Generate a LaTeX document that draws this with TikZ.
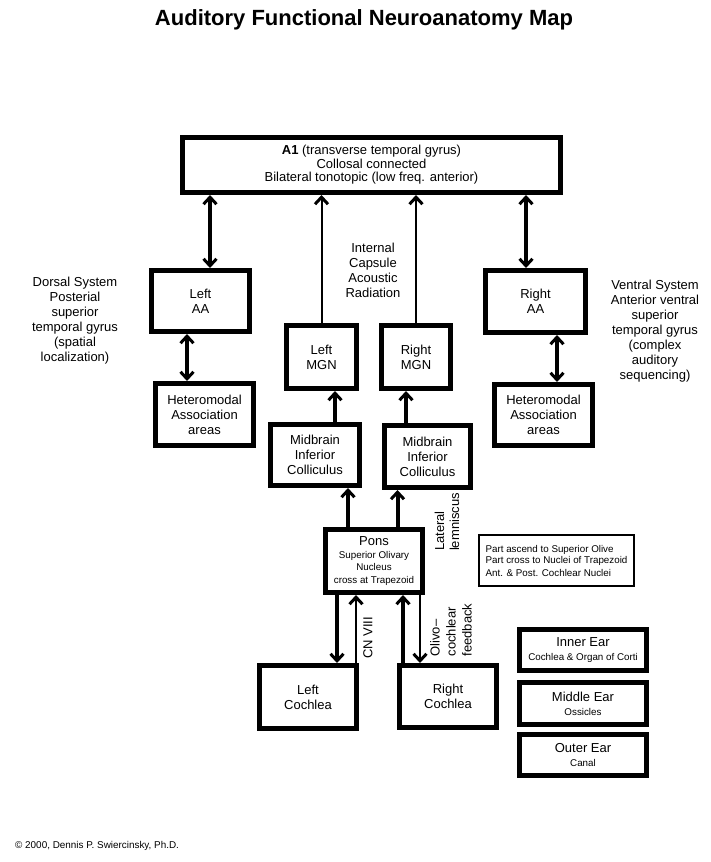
\documentclass[tikz,border=0pt]{standalone}
\usepackage{fontspec}
\setmainfont{Liberation Sans}
\usepackage{tikz}
\usetikzlibrary{arrows.meta}
\definecolor{ink}{HTML}{000000}
\definecolor{paper}{HTML}{FFFFFF}

\begin{document}
\begin{tikzpicture}[x=1pt,y=-1pt,font=\fontsize{13}{15}\selectfont,
  region/.style={draw=ink,line width=5pt,align=center,inner sep=1pt},
  note/.style={draw=ink,line width=2pt,align=left,inner sep=3pt},
  tract/.style={draw=ink,line width=4pt},
  fibre/.style={draw=ink,line width=2pt},
  onehead/.style={-{Straight Barb[length=7pt,width=13pt,line width=3pt]}},
  twoheads/.style={{Straight Barb[length=7pt,width=13pt,line width=3pt]}-{Straight Barb[length=7pt,width=13pt,line width=3pt]}},
  minor/.style={font=\fontsize{9.8}{12.5}\selectfont}]
  \fill[paper] (0,0) rectangle (711,862);
  \useasboundingbox (0,0) rectangle (711,862);
  \node[font=\fontsize{22}{24}\selectfont\bfseries] (title) at (364,20) {Auditory Functional Neuroanatomy Map};
  \node[region,minimum width=378,minimum height=55,font=\fontsize{13}{13.5}\selectfont] (A1) at (371.5,165)
    {\textbf{A1} (transverse temporal gyrus)\\Collosal connected\\Bilateral tonotopic (low freq. anterior)};
  \node[region,minimum width=98,minimum height=61] (leftAA) at (200.5,301) {Left\\AA};
  \node[region,minimum width=98,minimum height=62] (leftHet) at (204.5,414.5) {Heteromodal\\Association\\areas};
  \node[region,minimum width=100,minimum height=62] (rightAA) at (535.5,301.5) {Right\\AA};
  \node[region,minimum width=98,minimum height=61] (rightHet) at (543.5,415) {Heteromodal\\Association\\areas};
  \node[region,minimum width=70,minimum height=63] (leftMGN) at (321.5,357) {Left\\MGN};
  \node[region,minimum width=69,minimum height=63] (rightMGN) at (416,357) {Right\\MGN};
  \node[region,minimum width=89,minimum height=61] (leftMid) at (315,455) {Midbrain\\Inferior\\Colliculus};
  \node[region,minimum width=86,minimum height=62] (rightMid) at (427.5,456.5) {Midbrain\\Inferior\\Colliculus};
  \node[region,minimum width=97,minimum height=63,minor] (pons) at (374,561)
    {{\fontsize{13}{12.5}\selectfont Pons}\\Superior Olivary\\Nucleus\\cross at Trapezoid};
  \node[region,minimum width=97,minimum height=63] (leftCo) at (308,697) {Left\\Cochlea};
  \node[region,minimum width=97,minimum height=62] (rightCo) at (448,696.5) {Right\\Cochlea};
  \node[note,minimum width=155,minimum height=51,font=\fontsize{9.8}{11}\selectfont] (nuclei) at (556.5,560.5)
    {Part ascend to Superior Olive\\Part cross to Nuclei of Trapezoid\\[2pt]Ant. \& Post. Cochlear Nuclei};
  \node[region,minimum width=127,minimum height=41,font=\fontsize{13}{14}\selectfont] (inner) at (583,650)
    {Inner Ear\\{\fontsize{9.8}{11}\selectfont Cochlea \& Organ of Corti}};
  \node[region,minimum width=127,minimum height=42,font=\fontsize{13}{14}\selectfont] (middle) at (583,703.5)
    {Middle Ear\\{\fontsize{9.8}{11}\selectfont Ossicles}};
  \node[region,minimum width=127,minimum height=41,font=\fontsize{13}{14}\selectfont] (outer) at (583,755)
    {Outer Ear\\{\fontsize{9.8}{11}\selectfont Canal}};
  \node[align=center] (dorsal) at (75,321) {Dorsal System\\Posterial\\superior\\temporal gyrus\\(spatial\\localization)};
  \node[align=center] (ventral) at (655,331) {Ventral System\\Anterior ventral\\superior\\temporal gyrus\\(complex\\auditory\\sequencing)};
  \node[align=center] (capsule) at (373,270) {Internal\\Capsule\\Acoustic\\Radiation};
  \node[rotate=90,align=left] (lemniscus) at (447,522) {Lateral\\lemniscus};
  \node[rotate=90] (cn8) at (368,638) {CN VIII};
  \node[rotate=90,align=left,font=\fontsize{13}{16}\selectfont] (olivo) at (451,630) {Olivo–\\cochlear\\feedback};
  \node[anchor=west,inner sep=0pt,font=\fontsize{9.9}{11}\selectfont] (credit) at (15,846) {© 2000, Dennis P. Swiercinsky, Ph.D.};
  \draw[tract,twoheads] ([xshift=9.5]leftAA.north) -- ([xshift=9.5]leftAA.north |- A1.south);
  \draw[fibre,onehead] (leftMGN.north) -- (leftMGN.north |- A1.south);
  \draw[fibre,onehead] (rightMGN.north) -- (rightMGN.north |- A1.south);
  \draw[tract,twoheads] ([xshift=-9.5]rightAA.north) -- ([xshift=-9.5]rightAA.north |- A1.south);
  \draw[tract,twoheads] ([xshift=-13.5]leftAA.south) -- ([xshift=-13.5]leftAA.south |- leftHet.north);
  \draw[tract,twoheads] ([xshift=13.5]rightHet.north) -- ([xshift=13.5]rightHet.north |- rightAA.south);
  \draw[tract,onehead] ([xshift=13.5]leftMGN.south |- leftMid.north) -- ([xshift=13.5]leftMGN.south);
  \draw[tract,onehead] ([xshift=-10]rightMGN.south |- rightMid.north) -- ([xshift=-10]rightMGN.south);
  \draw[tract,onehead] ([xshift=-26]pons.north) -- ([xshift=-26]pons.north |- leftMid.south);
  \draw[tract,onehead] ([xshift=23.5]pons.north) -- ([xshift=23.5]pons.north |- rightMid.south);
  \draw[tract,onehead] ([xshift=-37]pons.south) -- ([xshift=-37]pons.south |- leftCo.north);
  \draw[fibre,onehead] ([xshift=-18]pons.south |- leftCo.north) -- ([xshift=-18]pons.south);
  \draw[tract,onehead] ([xshift=29]pons.south |- rightCo.north) -- ([xshift=29]pons.south);
  \draw[fibre,onehead] ([xshift=46]pons.south) -- ([xshift=46]pons.south |- rightCo.north);
\end{tikzpicture}
\end{document}
